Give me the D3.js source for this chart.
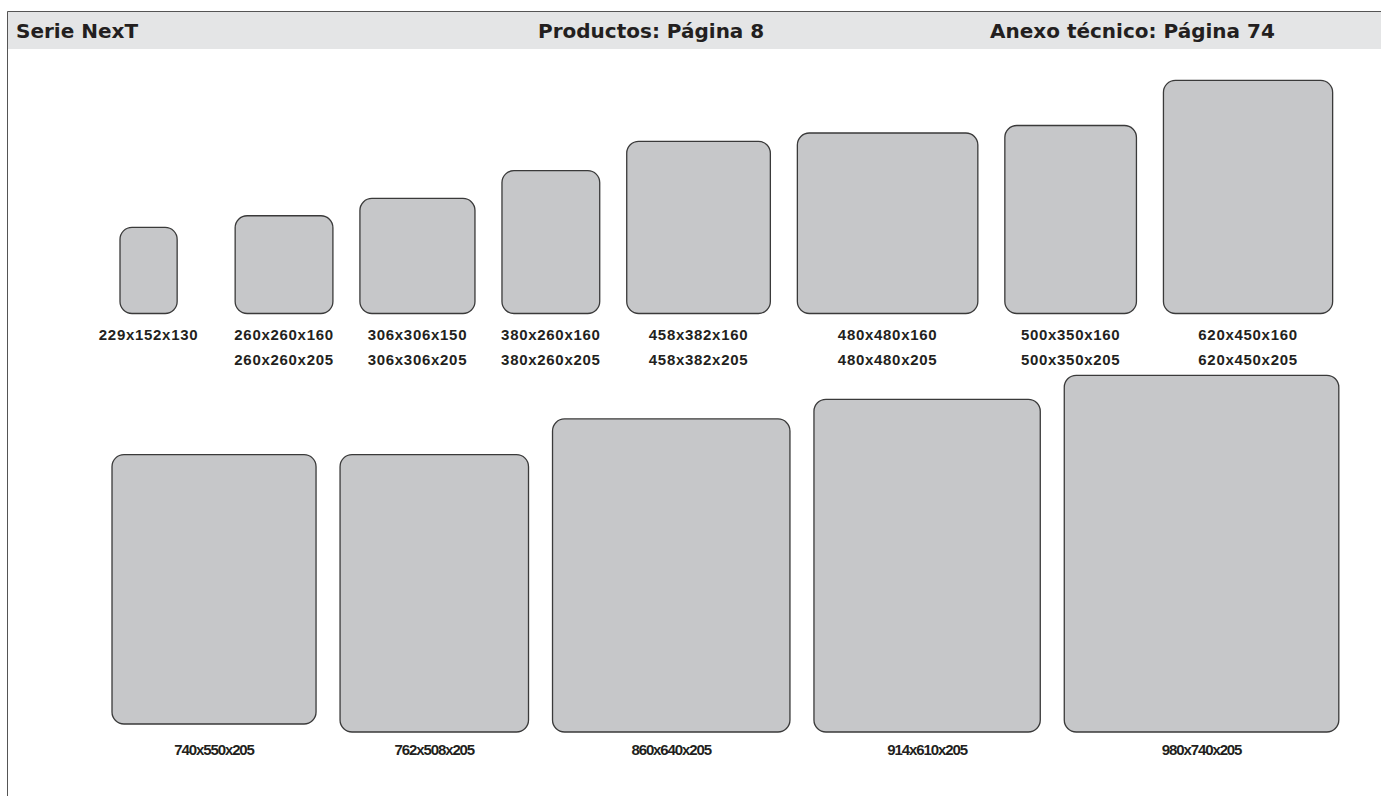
<!DOCTYPE html>
<html lang="es">

<head>
  <meta charset="UTF-8">
  <title>Serie NexT</title>
  <style>
    body { margin: 0; background: #fff; }
  </style>
</head>

<body>
  <svg id="svg" width="1381" height="796"></svg>

  <script src="https://d3js.org/d3.v7.min.js"></script>
  <script>
    // header texts
    const headerLabels = ['Serie NexT', 'Productos: Página 8', 'Anexo técnico: Página 74']

    // upper row: length x width, and the available heights
    const row1Length = [229, 260, 306, 380, 458, 480, 500, 620]
    const row1Width = [152, 260, 306, 260, 382, 480, 350, 450]
    const row1Heights = [[130], [160, 205], [150, 205], [160, 205], [160, 205], [160, 205], [160, 205], [160, 205]]

    // lower row
    const row2Length = [740, 762, 860, 914, 980]
    const row2Width = [550, 508, 640, 610, 740]
    const row2Heights = [[205], [205], [205], [205], [205]]

    const svg = d3.select('#svg')
    const ink = '#231f20'
    const fill = '#c6c7c9'
    const stroke = '#3a3a3a'

    // header band and frame
    svg.append('rect')
      .attr('x', 7).attr('y', 11)
      .attr('width', 1381 - 7).attr('height', 38)
      .attr('fill', '#e4e5e6')
    svg.append('path')
      .attr('d', d3.line()([[7.5, 796], [7.5, 11.5], [1381, 11.5]]))
      .attr('stroke', '#555')
      .attr('fill', 'none')

    const headerX = [16, 538, 990]
    svg.selectAll('text.header')
      .data(headerLabels)
      .enter()
      .append('text')
      .attr('class', 'header')
      .attr('x', (d, i) => headerX[i])
      .attr('y', 38)
      .text(d => d)
      .style('font-family', 'DejaVu Sans')
      .style('font-weight', 'bold')
      .style('font-size', '20px')
      .attr('fill', ink)

    // scales (mm -> px)
    const scale1 = d3.scaleLinear().domain([0, 1000]).range([0, 376])
    const scale2W = d3.scaleLinear().domain([0, 1000]).range([0, 371])
    const scale2L = d3.scaleLinear().domain([0, 1000]).range([0, 364])

    // lay the boxes out left to right
    function layout(lengths, widths, heights, sx, sy, start, gaps) {
      let x = start
      return lengths.map((l, i) => {
        const w = sx(widths[i])
        const item = { l, w: widths[i], hs: heights[i], x, pw: w, ph: sy(l) }
        x += w + gaps(i)
        return item
      })
    }

    const row1 = layout(row1Length, row1Width, row1Heights, scale1, scale1, 120, i => i === 0 ? 58 : 27)
    const row2 = layout(row2Length, row2Width, row2Heights, scale2W, scale2L, 112, () => 24)

    function drawRow(items, bottom, labelY, fontSize, spacing, cls) {
      const groups = svg.selectAll('g.' + cls)
        .data(items)
        .enter()
        .append('g')
        .attr('class', cls)

      groups.append('rect')
        .attr('x', d => d.x)
        .attr('y', (d, i) => bottom(i) - d.ph)
        .attr('width', d => d.pw)
        .attr('height', d => d.ph)
        .attr('rx', 12)
        .attr('fill', fill)
        .attr('stroke', stroke)
        .attr('stroke-width', 1.3)

      groups.selectAll('text')
        .data(d => d.hs.map(h => ({ cx: d.x + d.pw / 2, t: `${d.l}x${d.w}x${h}` })))
        .enter()
        .append('text')
        .attr('x', d => d.cx)
        .attr('y', (d, j) => labelY + j * 25)
        .attr('text-anchor', 'middle')
        .text(d => d.t)
        .style('font-family', 'Liberation Sans')
        .style('font-weight', 'bold')
        .style('font-size', fontSize)
        .style('letter-spacing', spacing)
        .attr('fill', ink)
    }

    drawRow(row1, () => 313.5, 340, '15px', '0.7px', 'row1')
    drawRow(row2, i => i === 0 ? 724 : 732, 755, '15px', '-1.1px', 'row2')
  </script>

</body>

</html>
